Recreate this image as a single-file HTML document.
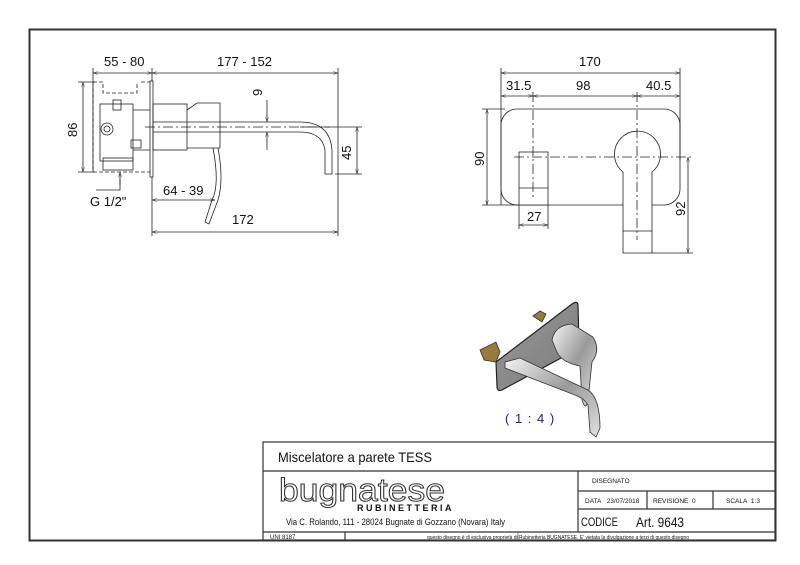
<!DOCTYPE html>
<html><head><meta charset="utf-8"><style>
html,body{margin:0;padding:0;background:#fff;}
svg{display:block;font-family:"Liberation Sans",Arial,sans-serif;}
</style></head><body>
<svg width="800" height="565" viewBox="0 0 800 565" xmlns="http://www.w3.org/2000/svg">
<defs>
<marker id="a" viewBox="0 0 10 6" refX="10" refY="3" markerWidth="8" markerHeight="4" orient="auto-start-reverse"><path d="M0,0 L10,3 L0,6" fill="none" stroke="#222" stroke-width="0.8"/></marker>
<linearGradient id="sil" x1="0" y1="0" x2="1" y2="1"><stop offset="0" stop-color="#f4f4f4"/><stop offset="0.5" stop-color="#9a9a9a"/><stop offset="1" stop-color="#e0e0e0"/></linearGradient>
<linearGradient id="pl" x1="0" y1="0" x2="1" y2="1"><stop offset="0" stop-color="#9a9a9a"/><stop offset="1" stop-color="#7a7a7a"/></linearGradient>
</defs>
<rect x="29.5" y="29.5" width="746" height="511" fill="none" stroke="#333" stroke-width="2"/>

<!-- LEFT VIEW -->
<g stroke="#222" stroke-width="0.8" fill="none">
 <line x1="93" y1="73" x2="152" y2="73" marker-start="url(#a)" marker-end="url(#a)"/>
 <line x1="152" y1="73" x2="338" y2="73" marker-start="url(#a)" marker-end="url(#a)"/>
 <line x1="93" y1="68" x2="93" y2="172"/>
 <line x1="152" y1="68" x2="152" y2="236"/>
 <line x1="338" y1="68" x2="338" y2="236"/>
 <line x1="152" y1="200" x2="215" y2="200" marker-start="url(#a)" marker-end="url(#a)"/>
 <line x1="152" y1="232" x2="338" y2="232" marker-start="url(#a)" marker-end="url(#a)"/>
 <line x1="83" y1="82" x2="83" y2="172" marker-start="url(#a)" marker-end="url(#a)"/>
 <line x1="78" y1="82" x2="95" y2="82"/><line x1="78" y1="172" x2="95" y2="172"/>
 <line x1="357" y1="127" x2="357" y2="174" marker-start="url(#a)" marker-end="url(#a)"/>
 <line x1="300" y1="127" x2="362" y2="127"/><line x1="335" y1="174" x2="362" y2="174"/>
 <line x1="267" y1="100" x2="267" y2="122" marker-end="url(#a)"/>
 <line x1="267" y1="150" x2="267" y2="132" marker-end="url(#a)"/>
 <path d="M93,82 H103 V93 H137 V82 M141,82 H152 M93,172 H152" stroke-dasharray="4,2"/>
 <line x1="93" y1="82" x2="93" y2="172" stroke-dasharray="4,2"/>
 <rect x="100" y="104" width="33" height="57"/>
 <circle cx="107" cy="129" r="6"/><circle cx="107" cy="129" r="3"/>
 <rect x="113" y="100" width="8" height="10"/><rect x="131" y="140" width="10" height="8"/>
 <rect x="103" y="158" width="30" height="12"/>
 <line x1="133" y1="110" x2="150" y2="110"/><line x1="133" y1="150" x2="150" y2="150"/>
 <rect x="150" y="81" width="3" height="96" fill="#fff"/>
 <rect x="153" y="104" width="34" height="46"/>
 <path d="M187,110 L197,103 H220 V148 H187"/>
 <path d="M153,122 H300 Q330,122 332,150 V174 H325 V150 Q322,132 300,132 H153"/>
 <line x1="145" y1="127" x2="330" y2="127" stroke-dasharray="10,3,2,3"/>
 <path d="M213,148 Q220,185 212,200 L205,222 L209,224 L218,200 Q224,180 218,148"/>
 <path d="M120,175 V190 H96" />
 <line x1="120" y1="185" x2="120" y2="172" marker-end="url(#a)"/>
</g>
<g font-size="13" fill="#111">
 <text x="104" y="66">55 - 80</text>
 <text x="217" y="66">177 - 152</text>
 <text x="163" y="195">64 - 39</text>
 <text x="232" y="224">172</text>
 <text x="90" y="206">G 1/2"</text>
 <text transform="translate(77,137) rotate(-90)">86</text>
 <text transform="translate(351,160) rotate(-90)">45</text>
 <text transform="translate(262,96) rotate(-90)">9</text>
</g>

<!-- RIGHT VIEW -->
<g stroke="#222" stroke-width="0.8" fill="none">
 <line x1="501" y1="73" x2="680" y2="73" marker-start="url(#a)" marker-end="url(#a)"/>
 <line x1="501" y1="96" x2="533" y2="96" marker-start="url(#a)" marker-end="url(#a)"/>
 <line x1="533" y1="96" x2="637" y2="96" marker-start="url(#a)" marker-end="url(#a)"/>
 <line x1="637" y1="96" x2="680" y2="96" marker-start="url(#a)" marker-end="url(#a)"/>
 <line x1="501" y1="68" x2="501" y2="205"/>
 <line x1="680" y1="68" x2="680" y2="160"/>
 <rect x="501" y="109" width="179" height="96" rx="16"/>
 <rect x="519" y="152" width="29" height="53" fill="#fff"/>
 <line x1="519" y1="188" x2="548" y2="188"/>
 <path d="M623,172 A23,23 0 1 1 652,172 V253 H623 Z" fill="#fff"/>
 <line x1="623" y1="231" x2="652" y2="231"/>
 <line x1="514" y1="157" x2="692" y2="157" stroke-dasharray="10,3,2,3"/>
 <line x1="533" y1="92" x2="533" y2="200" stroke-dasharray="10,3,2,3"/>
 <line x1="637" y1="92" x2="637" y2="240" stroke-dasharray="10,3,2,3"/>
 <line x1="487" y1="109" x2="487" y2="205" marker-start="url(#a)" marker-end="url(#a)"/>
 <line x1="482" y1="109" x2="505" y2="109"/><line x1="482" y1="205" x2="519" y2="205"/>
 <line x1="688" y1="157" x2="688" y2="253" marker-start="url(#a)" marker-end="url(#a)"/>
 <line x1="652" y1="253" x2="693" y2="253"/>
 <line x1="519" y1="225" x2="548" y2="225" marker-start="url(#a)" marker-end="url(#a)"/>
 <line x1="519" y1="205" x2="519" y2="229"/><line x1="548" y1="205" x2="548" y2="229"/>
</g>
<g font-size="13" fill="#111">
 <text x="579" y="66">170</text>
 <text x="506" y="90">31.5</text>
 <text x="576" y="90">98</text>
 <text x="646" y="90">40.5</text>
 <text x="527" y="221">27</text>
 <text transform="translate(484,166) rotate(-90)">90</text>
 <text transform="translate(685,216) rotate(-90)">92</text>
</g>

<!-- 3D render -->
<g stroke="#333" stroke-width="0.8">
 <path d="M480,350 L496,342 L500,352 L496,362 L484,360 Z" fill="#9a7a3a"/>
 <path d="M533,316 l7,-5 l6,3 l-4,8 Z" fill="#9a7a3a"/>
 <path d="M496,362 L572,304 Q578,300 578,306 L579,343 Q579,348 574,351 L502,390 Q497,392 497,386 Z" fill="url(#pl)" stroke="#222" stroke-width="1.2"/>
 <path d="M552,340 Q555,325 572,324 L593,337 Q601,350 592,362 L588,400 Q586,412 582,400 L580,366 Q560,362 556,350 Z" fill="url(#sil)"/>
 <path d="M505,362 L520,358 L588,390 Q600,398 600,428 L596,437 L590,432 L588,405 Q584,398 575,395 L505,368 Z" fill="url(#sil)"/>
</g>
<text x="505" y="423" font-size="13" fill="#1a1aa8" letter-spacing="1">( 1 : 4 )</text>

<!-- TITLE BLOCK -->
<g stroke="#333" stroke-width="1.2" fill="none">
 <rect x="263" y="442" width="512" height="98"/>
 <line x1="263" y1="471" x2="775" y2="471"/>
 <line x1="578" y1="471" x2="578" y2="532"/>
 <line x1="578" y1="491" x2="775" y2="491"/>
 <line x1="578" y1="509" x2="775" y2="509"/>
 <line x1="647" y1="491" x2="647" y2="509"/>
 <line x1="713" y1="491" x2="713" y2="509"/>
 <line x1="263" y1="532" x2="775" y2="532"/>
 <line x1="345" y1="532" x2="345" y2="540"/>
 <line x1="518" y1="532" x2="518" y2="540" stroke-width="0.6"/>
</g>
<text x="278" y="462" font-size="14" fill="#111" textLength="154" lengthAdjust="spacingAndGlyphs">Miscelatore a parete TESS</text>
<text x="279" y="501" font-size="32" fill="#fff" stroke="#333" stroke-width="1" textLength="166" lengthAdjust="spacingAndGlyphs">bugnatese</text>
<text x="357" y="511" font-size="9" font-weight="bold" fill="#111" letter-spacing="2.5">RUBINETTERIA</text>
<text x="286" y="525" font-size="9.5" fill="#111" textLength="219" lengthAdjust="spacingAndGlyphs">Via C. Rolando, 111 - 28024 Bugnate di Gozzano (Novara) Italy</text>
<g font-size="6.5" fill="#111">
 <text x="592" y="483">DISEGNATO</text>
 <text x="585" y="503">DATA&#160;&#160;&#160;23/07/2018</text>
 <text x="653" y="503">REVISIONE&#160;&#160;0</text>
 <text x="726" y="503">SCALA&#160;&#160;1:3</text>
 <text x="270" y="539" font-size="6">UNI 8187</text>
 <text x="427" y="539" font-size="5" textLength="262" lengthAdjust="spacingAndGlyphs">questo disegno è di esclusiva proprietà di Rubinetteria BUGNATESE. E' vietata la divulgazione a terzi di questo disegno</text>
</g>
<text x="581" y="526" font-size="12" fill="#111" textLength="37" lengthAdjust="spacingAndGlyphs">CODICE</text>
<text x="636" y="527" font-size="14" fill="#111" textLength="48" lengthAdjust="spacingAndGlyphs">Art. 9643</text>
</svg>
</body></html>
